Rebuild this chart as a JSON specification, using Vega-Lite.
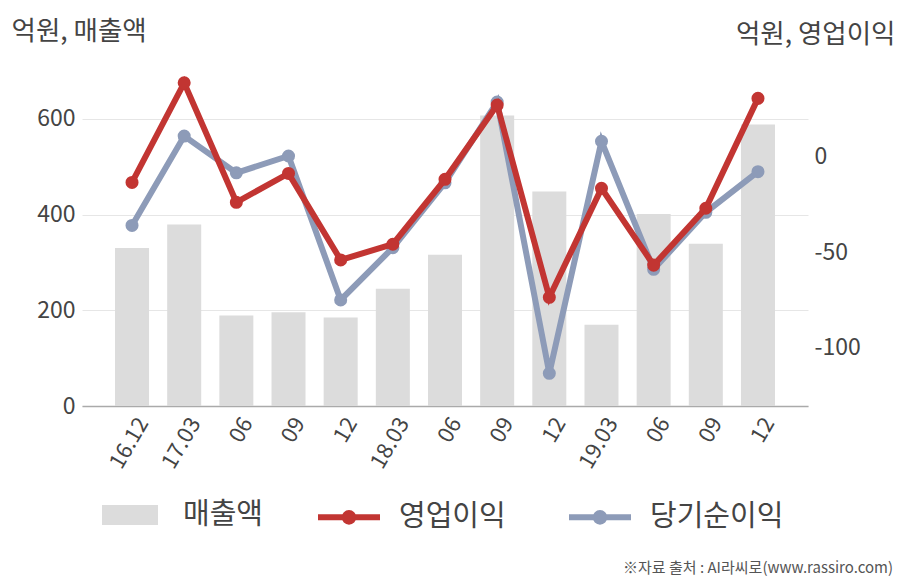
{
  "$schema": "https://vega.github.io/schema/vega-lite/v6.json",
  "width": 726,
  "height": 335,
  "autosize": {"type": "none"},
  "padding": {"left": 82, "top": 71, "right": 100, "bottom": 174},
  "background": "white",
  "config": {"font": "Noto Sans CJK KR", "view": {"stroke": null}},
  "title": {
    "text": "※자료 출처 : AI라씨로(www.rassiro.com)",
    "orient": "bottom",
    "anchor": "end",
    "frame": "group",
    "fontSize": 15,
    "fontWeight": "normal",
    "color": "#555555",
    "offset": 27,
    "dx": 85
  },
  "data": {
    "values": [
      {"q": "16.12", "sales": 330, "op": -13.5, "net": -36},
      {"q": "17.03", "sales": 379, "op": 38.5, "net": 10.7},
      {"q": "17.06", "sales": 189, "op": -23.9, "net": -8.5},
      {"q": "17.09", "sales": 196, "op": -8.8, "net": 0.3},
      {"q": "17.12", "sales": 185, "op": -54, "net": -74.9},
      {"q": "18.03", "sales": 245, "op": -45.8, "net": -47.6},
      {"q": "18.06", "sales": 316, "op": -11.9, "net": -13.7},
      {"q": "18.09", "sales": 607, "op": 26.9, "net": 28.5},
      {"q": "18.12", "sales": 448, "op": -73.5, "net": -113.2},
      {"q": "19.03", "sales": 170, "op": -16.6, "net": 8},
      {"q": "19.06", "sales": 401, "op": -56.7, "net": -58.9},
      {"q": "19.09", "sales": 339, "op": -27, "net": -29.1},
      {"q": "19.12", "sales": 588, "op": 30.4, "net": -7.9}
    ]
  },
  "encoding": {
    "x": {
      "field": "q",
      "type": "ordinal",
      "sort": null,
      "scale": {"paddingInner": 0.348, "paddingOuter": 0.633},
      "axis": {
        "title": null,
        "labelAngle": -60,
        "labelFontSize": 22,
        "labelColor": "#444444",
        "ticks": false,
        "domainColor": "#aaaaaa",
        "domainWidth": 1.5,
        "labelPadding": 13,
        "labelOffset": 11,
        "labelExpr": "indexof(['16.12','17.03','18.03','19.03'], datum.value) >= 0 ? datum.value : slice(datum.value, 3)"
      }
    }
  },
  "layer": [
    {
      "mark": {"type": "bar"},
      "encoding": {
        "y": {
          "field": "sales",
          "type": "quantitative",
          "scale": {"domain": [0, 700], "nice": false},
          "axis": {
            "orient": "left",
            "values": [0, 200, 400, 600],
            "grid": true,
            "gridColor": "#e6e6e6",
            "domain": false,
            "ticks": false,
            "labelFontSize": 23,
            "labelColor": "#444444",
            "labelPadding": 7,
            "title": "억원, 매출액",
            "titleAngle": 0,
            "titleAlign": "left",
            "titleBaseline": "middle",
            "titleX": -71,
            "titleY": -40,
            "titleFontSize": 26.5,
            "titleFontWeight": "normal",
            "titleColor": "#444444"
          }
        },
        "fill": {
          "datum": "매출액",
          "type": "nominal",
          "scale": {"domain": ["매출액"], "range": ["#dcdcdc"]},
          "legend": {
            "title": null,
            "orient": "none",
            "direction": "horizontal",
            "legendX": 20,
            "legendY": 416,
            "labelFontSize": 29,
            "labelColor": "#444444",
            "labelOffset": 25,
            "symbolSize": 3136,
            "symbolStrokeWidth": 0,
            "symbolType": "M-1,-0.357H1V0.357H-1Z"
          }
        }
      }
    },
    {
      "mark": {"type": "line", "strokeWidth": 6, "point": {"size": 170, "filled": true}},
      "encoding": {
        "y": {
          "field": "net",
          "type": "quantitative",
          "scale": {"domain": [-130.3, 44.7], "nice": false, "zero": false},
          "axis": null
        },
        "color": {
          "datum": "당기순이익",
          "type": "nominal",
          "scale": {"domain": ["영업이익", "당기순이익"], "range": ["#c23532", "#8d9bb8"]},
          "legend": {
            "title": null,
            "orient": "none",
            "direction": "horizontal",
            "legendX": 233,
            "legendY": 412,
            "labelFontSize": 29,
            "labelColor": "#444444",
            "labelOffset": 16,
            "columnPadding": 51,
            "symbolSize": 3844,
            "symbolStrokeWidth": 6,
            "symbolType": "M-1,0H1M0.14,0A0.14,0.14 0 1,1 -0.14,0A0.14,0.14 0 1,1 0.14,0M0.055,0A0.055,0.055 0 1,1 -0.055,0A0.055,0.055 0 1,1 0.055,0"
          }
        }
      }
    },
    {
      "mark": {"type": "line", "strokeWidth": 6, "point": {"size": 170, "filled": true}},
      "encoding": {
        "y": {
          "field": "op",
          "type": "quantitative",
          "scale": {"domain": [-130.3, 44.7], "nice": false, "zero": false},
          "axis": {
            "orient": "right",
            "values": [-100, -50, 0],
            "grid": false,
            "domain": false,
            "ticks": false,
            "labelFontSize": 23,
            "labelColor": "#444444",
            "labelPadding": 6,
            "labelExpr": "toString(datum.value)",
            "title": "억원, 영업이익",
            "titleAngle": 0,
            "titleAlign": "right",
            "titleBaseline": "middle",
            "titleX": 87,
            "titleY": -37,
            "titleFontSize": 26.5,
            "titleFontWeight": "normal",
            "titleColor": "#444444"
          }
        },
        "color": {"datum": "영업이익", "type": "nominal"}
      }
    }
  ],
  "resolve": {"scale": {"y": "independent"}}
}
